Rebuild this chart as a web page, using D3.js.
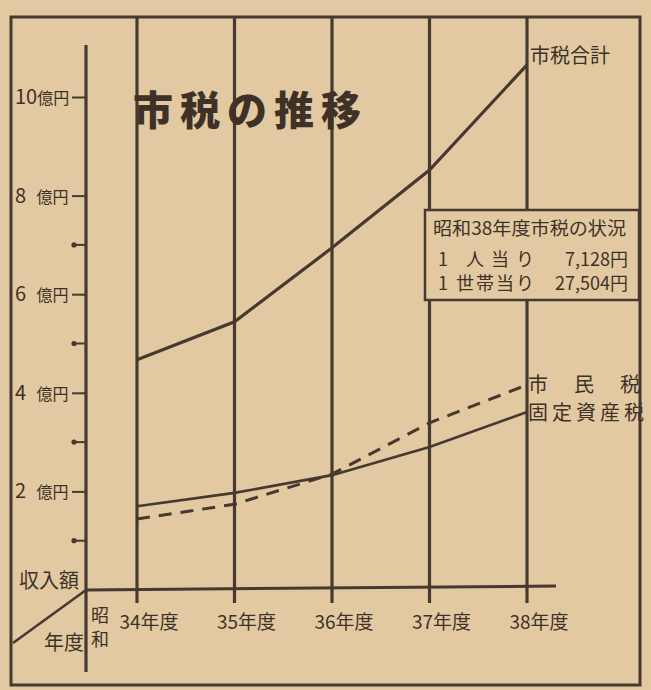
<!DOCTYPE html>
<html>
<head>
<meta charset="utf-8">
<script src="https://cdn.jsdelivr.net/npm/d3@7"></script>
<style>
  body { margin: 0; background: #e2c9a1; }
  svg { display: block; }
  text { font-family: "Noto Sans CJK JP", "Noto Sans", sans-serif; fill: #3e3128; }
</style>
</head>
<body>
<script>
// data (units: 億円)
var years = ["34", "35", "36", "37", "38"];
var totalTax = [4.67, 5.44, 6.94, 8.52, 10.65];     // 市税合計
var residentTax = [1.44, 1.74, 2.35, 3.39, 4.16];  // 市民税
var propertyTax = [1.70, 1.97, 2.33, 2.90, 3.61];  // 固定資産税
var majorTicks = [2, 4, 6, 8, 10];
var minorTicks = [1, 3, 5, 7];
var boxLines = ["1 人当り", "1 世帯当り"];
var boxValues = ["7,128円", "27,504円"];

var ink = "#463930";
var paper = "#e2c9a1";

var svgWidth = 651, svgHeight = 690;

var svg = d3.select("body")
  .append("svg")
  .attr("width", svgWidth)
  .attr("height", svgHeight);

svg.append("rect")
  .attr("width", svgWidth)
  .attr("height", svgHeight)
  .attr("fill", paper);

// scales
var x = d3.scalePoint().domain(years).range([137, 527]);
var y = d3.scaleLinear().domain([0, 10]).range([590, 97]);

// outer frame
svg.append("rect")
  .attr("x", 11).attr("y", 17)
  .attr("width", 629).attr("height", 668)
  .attr("fill", "none")
  .attr("stroke", ink)
  .attr("stroke-width", 3);

// year gridlines
svg.selectAll(".grid")
  .data(years)
  .enter()
  .append("line")
  .attr("class", "grid")
  .attr("x1", d => x(d)).attr("x2", d => x(d))
  .attr("y1", 17).attr("y2", 603)
  .attr("stroke", ink)
  .attr("stroke-width", 3.2);

// baseline
svg.append("line")
  .attr("x1", 86).attr("x2", 556)
  .attr("y1", y(0)).attr("y2", y(0) - 4)
  .attr("stroke", ink)
  .attr("stroke-width", 3);

// y axis line (runs down past the baseline)
svg.append("line")
  .attr("x1", 86).attr("x2", 86)
  .attr("y1", 45).attr("y2", 672)
  .attr("stroke", ink)
  .attr("stroke-width", 3.2);

// corner diagonal
svg.append("line")
  .attr("x1", 13).attr("y1", 643)
  .attr("x2", 86).attr("y2", y(0))
  .attr("stroke", ink)
  .attr("stroke-width", 2.5);

// major ticks via axis
var leftAxis = d3.axisLeft(y)
  .tickValues(majorTicks)
  .tickSize(14)
  .tickFormat("");
var axisG = svg.append("g")
  .attr("transform", "translate(86,0)")
  .call(leftAxis);
axisG.select(".domain").remove();
axisG.selectAll(".tick line").attr("stroke", ink).attr("stroke-width", 2);

// minor ticks with blob ends
var minorG = svg.append("g");
minorG.selectAll("line")
  .data(minorTicks)
  .enter()
  .append("line")
  .attr("x1", 73).attr("x2", 86)
  .attr("y1", d => y(d)).attr("y2", d => y(d))
  .attr("stroke", ink)
  .attr("stroke-width", 2);
minorG.selectAll("circle")
  .data(minorTicks)
  .enter()
  .append("circle")
  .attr("cx", 74).attr("cy", d => y(d))
  .attr("r", 2.6)
  .attr("fill", ink);

// y labels
var yLab = svg.selectAll(".ylab")
  .data(majorTicks)
  .enter()
  .append("text")
  .attr("class", "ylab")
  .attr("x", 15)
  .attr("y", d => y(d) + 7);
yLab.append("tspan")
  .attr("font-size", "20px")
  .text(d => d === 10 ? "10" : d + " ");
yLab.append("tspan")
  .attr("font-size", "16px")
  .attr("dx", d => d === 10 ? 0 : 6)
  .text("億円");

// x labels
svg.selectAll(".xlab")
  .data(years)
  .enter()
  .append("text")
  .attr("class", "xlab")
  .attr("x", d => x(d) + 12)
  .attr("y", 629)
  .attr("text-anchor", "middle")
  .attr("font-size", "19px")
  .text(d => d + "年度");

// corner labels
svg.append("text").attr("x", 19).attr("y", 588).attr("font-size", "20px").text("収入額");
svg.append("text").attr("x", 44).attr("y", 650).attr("font-size", "20px").text("年度");
svg.append("text").attr("x", 91).attr("y", 622).attr("font-size", "18px").text("昭");
svg.append("text").attr("x", 91).attr("y", 646).attr("font-size", "18px").text("和");

// lines
var line = d3.line()
  .x((d, i) => x(years[i]))
  .y(d => y(d));

svg.append("path")
  .datum(totalTax)
  .attr("d", line)
  .attr("fill", "none")
  .attr("stroke", ink)
  .attr("stroke-width", 3.2);

svg.append("path")
  .datum(propertyTax)
  .attr("d", line)
  .attr("fill", "none")
  .attr("stroke", ink)
  .attr("stroke-width", 2.6);

svg.append("path")
  .datum(residentTax)
  .attr("d", line)
  .attr("fill", "none")
  .attr("stroke", ink)
  .attr("stroke-width", 3)
  .attr("stroke-dasharray", "13,9");

// series labels
svg.append("text").attr("x", 530).attr("y", 63).attr("font-size", "20px").text("市税合計");
svg.append("text").attr("x", 528).attr("y", 392).attr("font-size", "20px")
  .attr("textLength", 112).attr("lengthAdjust", "spacing").text("市民税");
svg.append("text").attr("x", 528).attr("y", 420).attr("font-size", "20px")
  .attr("textLength", 116).attr("lengthAdjust", "spacing").text("固定資産税");

// title
svg.append("text")
  .attr("x", 133).attr("y", 125)
  .attr("font-size", "40px")
  .attr("font-weight", 900)
  .attr("letter-spacing", "7px")
  .text("市税の推移");

// info box
var box = svg.append("g");
box.append("rect")
  .attr("x", 425).attr("y", 210)
  .attr("width", 214).attr("height", 90)
  .attr("fill", paper)
  .attr("stroke", ink)
  .attr("stroke-width", 2.5);
box.append("text")
  .attr("x", 433).attr("y", 235)
  .attr("font-size", "18px")
  .attr("textLength", 193).attr("lengthAdjust", "spacingAndGlyphs")
  .text("昭和38年度市税の状況");
box.selectAll(".bl")
  .data(boxLines)
  .enter()
  .append("text")
  .attr("class", "bl")
  .attr("x", 438)
  .attr("y", (d, i) => 266 + i * 24)
  .attr("font-size", "18px")
  .attr("letter-spacing", (d, i) => i === 0 ? "7px" : "2px")
  .text(d => d);
box.selectAll(".bv")
  .data(boxValues)
  .enter()
  .append("text")
  .attr("class", "bv")
  .attr("x", 628)
  .attr("y", (d, i) => 266 + i * 24)
  .attr("text-anchor", "end")
  .attr("font-size", "18px")
  .text(d => d);
</script>
</body>
</html>
